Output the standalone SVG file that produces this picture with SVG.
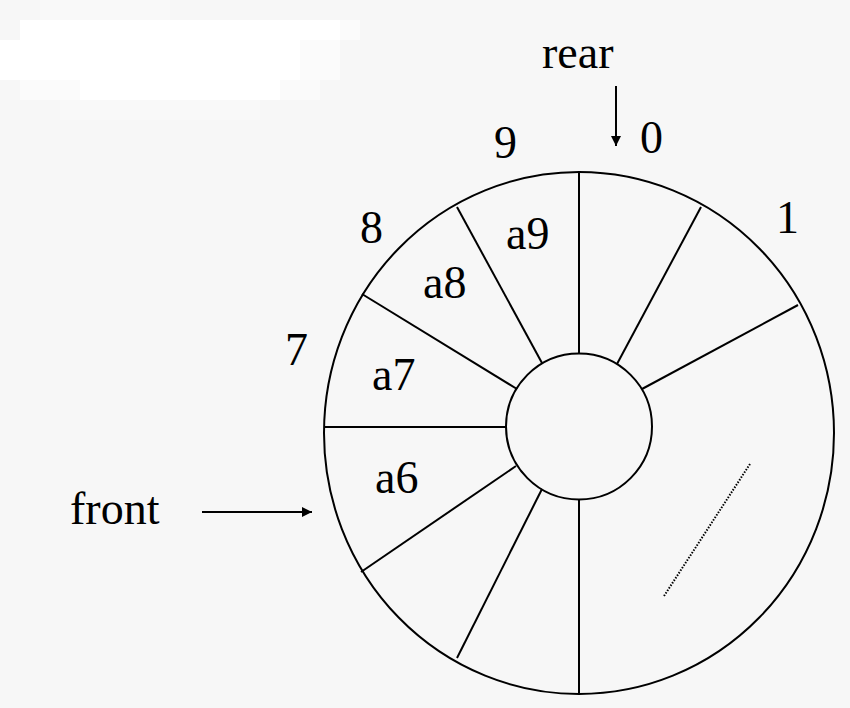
<svg xmlns="http://www.w3.org/2000/svg" width="850" height="708" viewBox="0 0 850 708">
<defs>
<style>
.lbl{font-family:"Liberation Serif","Times New Roman",serif;font-size:46px;fill:#000}
.ln{stroke:#000;stroke-width:2;fill:none}
</style>
<marker id="ah" markerWidth="10" markerHeight="10" refX="10" refY="5" orient="auto" markerUnits="userSpaceOnUse">
<path d="M0,0 L10,5 L0,10 z" fill="#000"/>
</marker>
</defs>
<rect width="850" height="708" fill="#f7f7f7"/>
<g id="blur">
<rect x="40" y="0" width="130" height="20" fill="#fff" opacity="0.25"/>
<rect x="20" y="20" width="320" height="20" fill="#fff"/>
<rect x="340" y="20" width="20" height="20" fill="#fff" opacity="0.5"/>
<rect x="0" y="40" width="300" height="40" fill="#fff"/>
<rect x="300" y="40" width="40" height="40" fill="#fff" opacity="0.45"/>
<rect x="20" y="80" width="60" height="20" fill="#fff" opacity="0.5"/>
<rect x="80" y="80" width="200" height="20" fill="#fff"/>
<rect x="280" y="80" width="40" height="20" fill="#fff" opacity="0.4"/>
<rect x="60" y="100" width="200" height="20" fill="#fff" opacity="0.3"/>
</g>
<g id="ring">
<ellipse class="ln" cx="579" cy="433" rx="255" ry="261"/>
<circle class="ln" cx="579" cy="426.5" r="73"/>
</g>
<g id="spokes">
<line class="ln" x1="579" y1="172" x2="579" y2="353.5"/>
<line class="ln" x1="701" y1="207" x2="617" y2="364"/>
<line class="ln" x1="798" y1="305" x2="642" y2="389"/>
<line class="ln" x1="457" y1="207" x2="542" y2="363"/>
<line class="ln" x1="362" y1="294" x2="517" y2="389"/>
<line class="ln" x1="324" y1="427" x2="506" y2="427"/>
<line class="ln" x1="361" y1="572" x2="516" y2="466"/>
<line class="ln" x1="457" y1="658" x2="542" y2="489"/>
<line class="ln" x1="579" y1="500" x2="579" y2="694"/>
<line x1="750" y1="464" x2="664" y2="596" stroke="#000" stroke-width="2" stroke-dasharray="1.5,1.5"/>
</g>
<g id="connectors">
<line class="ln" x1="616" y1="86" x2="616" y2="146" marker-end="url(#ah)"/>
<line class="ln" x1="202" y1="512" x2="312" y2="512" marker-end="url(#ah)"/>
</g>
<g id="labels">
<text class="lbl" x="542" y="68">rear</text>
<text class="lbl" x="70" y="524">front</text>
<text class="lbl" x="494" y="158">9</text>
<text class="lbl" x="640" y="153">0</text>
<text class="lbl" x="776" y="233">1</text>
<text class="lbl" x="360" y="243">8</text>
<text class="lbl" x="285" y="365">7</text>
<text class="lbl" x="506" y="249">a9</text>
<text class="lbl" x="423" y="298">a8</text>
<text class="lbl" x="372" y="390">a7</text>
<text class="lbl" x="375" y="493">a6</text>
</g>
</svg>
